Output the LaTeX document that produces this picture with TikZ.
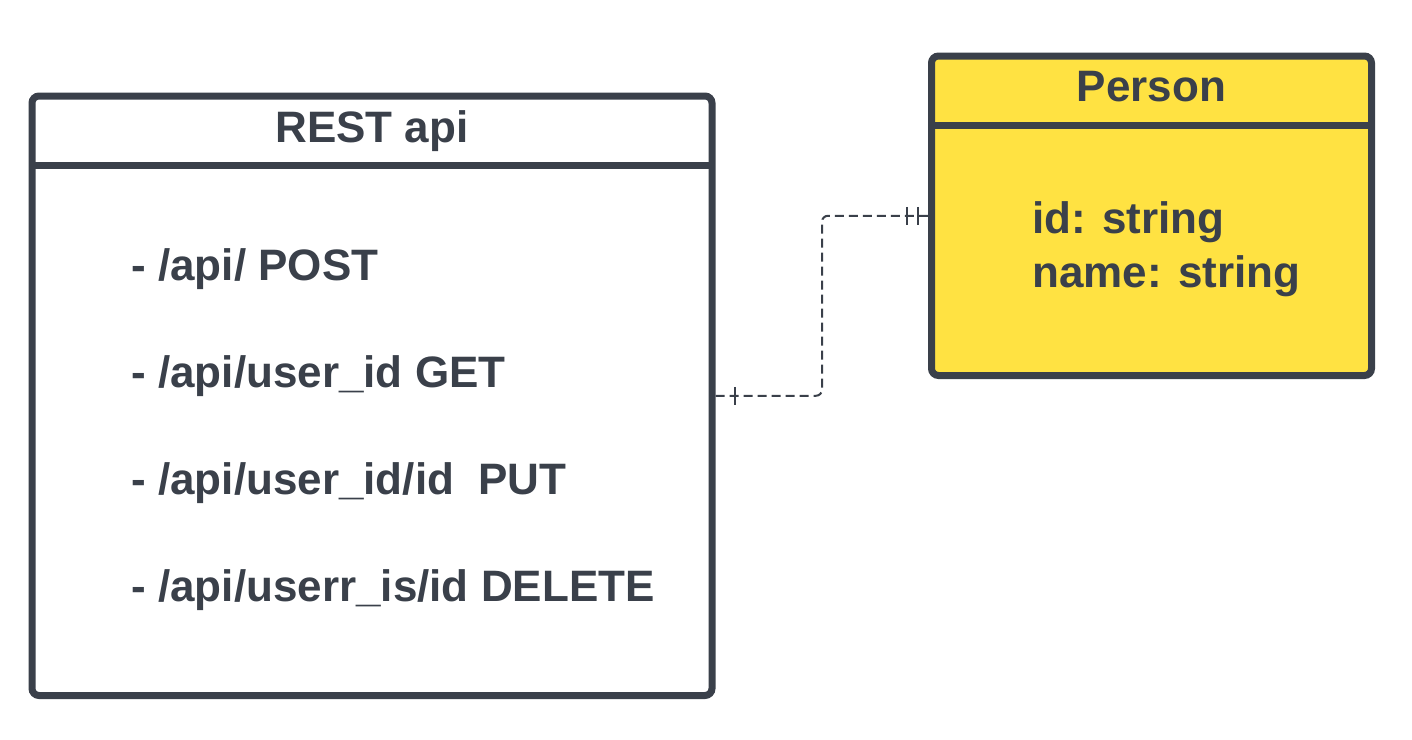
\documentclass[tikz,border=0pt]{standalone}
\usepackage{fontspec}
\setmainfont{Liberation Sans}
\usepackage{tikz}
\usetikzlibrary{calc}

\definecolor{lineColor}{RGB}{58,64,74}
\definecolor{entityFill}{RGB}{255,226,66}

\tikzset{
  entityBox/.style={draw=lineColor, line width=3.5pt, rounded corners=3.5pt, inner sep=0pt, outer sep=0pt},
  headLine/.style={draw=lineColor, line width=3.5pt},
  headText/.style={anchor=base, inner sep=0pt, text=lineColor, font=\fontsize{22}{26}\selectfont\bfseries},
  rowText/.style={anchor=base west, inner sep=0pt, text=lineColor, font=\fontsize{22}{26}\selectfont\bfseries},
  relLine/.style={draw=lineColor, line width=1pt, dash pattern=on 4.5pt off 2.5pt, rounded corners=3pt},
  relTick/.style={draw=lineColor, line width=1pt}
}

\begin{document}
\begin{tikzpicture}[x=0.5pt,y=-0.5pt]
\useasboundingbox (0,0) rectangle (1412,739);
\node[entityBox, fill=white, minimum width=340pt, minimum height=299.75pt] (rest) at (372,395.75) {};
\node[entityBox, fill=entityFill, minimum width=220pt, minimum height=159.75pt] (person) at (1151.5,215.75) {};
\draw[headLine] (rest.west |- 0,165) -- (rest.east |- 0,165);
\draw[headLine] (person.west |- 0,125) -- (person.east |- 0,125);
\node[headText] (restTitle) at (372,142) {REST api};
\node[headText] (personTitle) at (1151.5,101) {Person};
\foreach \lbl [count=\i] in {- /api/ POST, - /api/user\_id GET, - /api/user\_id/id\ \ PUT, - /api/userr\_is/id DELETE}
  \node[rowText] (route\i) at (131,173+107*\i) {\lbl};
\node[rowText] (attrId) at (1032,233) {id: string};
\node[rowText] (attrName) at (1032,287) {name: string};
\coordinate (relBend) at (822,0);
\draw[relLine] ([xshift=1.75pt]rest.east) -| (relBend |- person.west) -- ([xshift=-1.75pt]person.west);
\draw[relTick] ($(rest.east)+(23,-9)$) -- ++(0,18);
\draw[relTick] ($(person.west)+(-24.5,-9)$) -- ++(0,18);
\draw[relTick] ($(person.west)+(-13.5,-9)$) -- ++(0,18);
\end{tikzpicture}
\end{document}
